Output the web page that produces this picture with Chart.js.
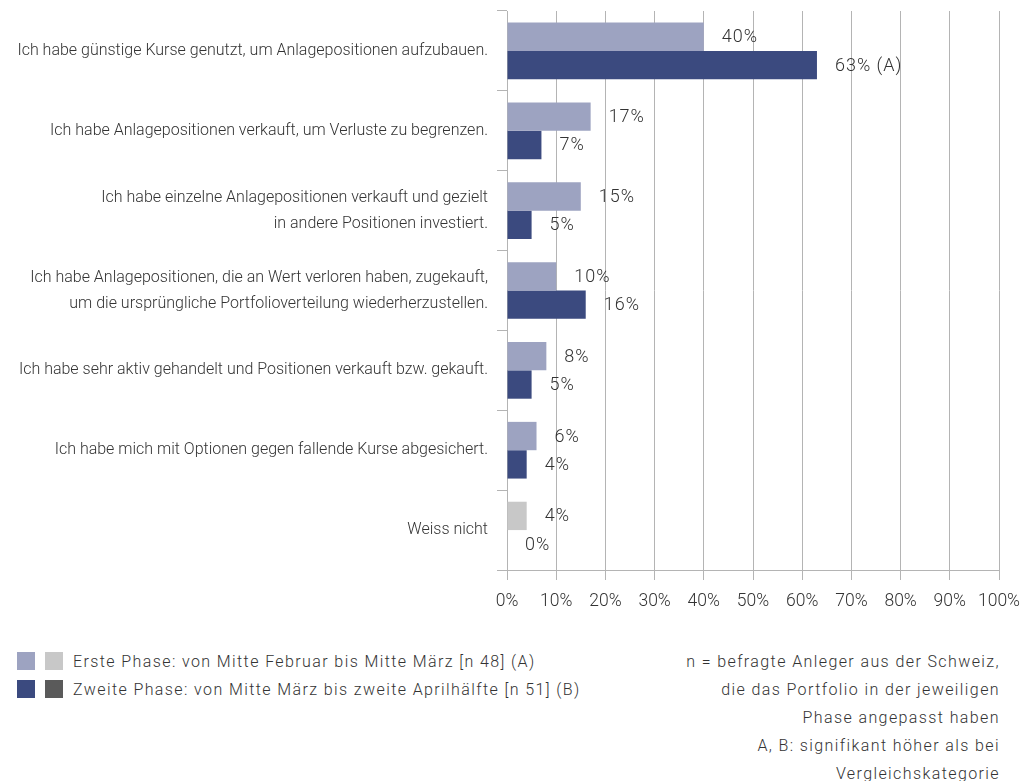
<!DOCTYPE html>
<html lang="de">
<head>
<meta charset="utf-8">
<script src="https://cdn.jsdelivr.net/npm/chart.js@4"></script>
<style>
  body { margin: 0; background: #fff; font-family: Roboto, "Liberation Sans", sans-serif; font-weight: 300; color: #333; }
  #wrap { position: relative; width: 1022px; height: 781px; }
  #chart { position: absolute; left: 0; top: 0; }
  .legend { position: absolute; left: 17px; top: 647px; font-size: 16px; letter-spacing: 1.4px; }
  .legend .row { display: flex; align-items: center; height: 28px; }
  .legend .sw { width: 18px; height: 18px; margin-right: 10px; }
  .note { position: absolute; right: 22px; top: 648px; font-size: 16px; letter-spacing: 1.4px; line-height: 28px; text-align: right; }
</style>
</head>
<body>
<div id="wrap">
  <canvas id="chart" width="1022" height="625"></canvas>
  <div class="legend">
    <div class="row"><span class="sw" style="background:#9da3c1"></span><span class="sw" style="background:#c8c8c8"></span>Erste Phase: von Mitte Februar bis Mitte März [n 48] (A)</div>
    <div class="row"><span class="sw" style="background:#3b4a7f"></span><span class="sw" style="background:#5a5a5a"></span>Zweite Phase: von Mitte März bis zweite Aprilhälfte [n 51] (B)</div>
  </div>
  <div class="note">
    n = befragte Anleger aus der Schweiz,<br>
    die das Portfolio in der jeweiligen<br>
    Phase angepasst haben<br>
    A, B: signifikant höher als bei<br>
    Vergleichskategorie
  </div>
</div>
<script>
const categories = [
  'Ich habe günstige Kurse genutzt, um Anlagepositionen aufzubauen.',
  'Ich habe Anlagepositionen verkauft, um Verluste zu begrenzen.',
  ['Ich habe einzelne Anlagepositionen verkauft und gezielt', 'in andere Positionen investiert.'],
  ['Ich habe Anlagepositionen, die an Wert verloren haben, zugekauft,', 'um die ursprüngliche Portfolioverteilung wiederherzustellen.'],
  'Ich habe sehr aktiv gehandelt und Positionen verkauft bzw. gekauft.',
  'Ich habe mich mit Optionen gegen fallende Kurse abgesichert.',
  'Weiss nicht'
];
const phase1 = [40, 17, 15, 10, 8, 6, 4];
const phase2 = [63, 7, 5, 16, 5, 4, 0];
const phase1Marks = ['', '', '', '', '', '', ''];
const phase2Marks = [' (A)', '', '', '', '', '', ''];
const xTicks = [0, 10, 20, 30, 40, 50, 60, 70, 80, 90, 100];

const FONT = 'Roboto, "Liberation Sans", sans-serif';
const TEXT = '#333';
const GRID = '#b4b4b4';

// last category ("Weiss nicht") is drawn in grey tones
const lastIdx = categories.length - 1;

const valueLabels = {
  id: 'valueLabels',
  afterDatasetsDraw(chart) {
    const ctx = chart.ctx;
    ctx.save();
    ctx.font = '300 18px ' + FONT;
    ctx.letterSpacing = '1px';
    ctx.fillStyle = TEXT;
    ctx.textAlign = 'left';
    ctx.textBaseline = 'middle';
    chart.data.datasets.forEach((ds, di) => {
      const meta = chart.getDatasetMeta(di);
      meta.data.forEach((bar, i) => {
        const txt = ds.data[i] + '%' + ds.marks[i];
        ctx.fillText(txt, bar.x + 18, bar.y + 1);
      });
    });
    ctx.restore();
  }
};

new Chart(document.getElementById('chart'), {
  type: 'bar',
  data: {
    labels: categories,
    datasets: [
      {
        data: phase1,
        marks: phase1Marks,
        backgroundColor: c => c.dataIndex === lastIdx ? '#c8c8c8' : '#9da3c1',
        categoryPercentage: 0.71,
        barPercentage: 1
      },
      {
        data: phase2,
        marks: phase2Marks,
        backgroundColor: c => c.dataIndex === lastIdx ? '#5a5a5a' : '#3b4a7f',
        categoryPercentage: 0.71,
        barPercentage: 1
      }
    ]
  },
  options: {
    indexAxis: 'y',
    responsive: false,
    animation: false,
    devicePixelRatio: 1,
    layout: { padding: { top: 11, right: 23, left: 0, bottom: 0 } },
    plugins: { legend: { display: false }, tooltip: { enabled: false } },
    scales: {
      x: {
        min: 0,
        max: 100,
        afterBuildTicks: s => { s.ticks = xTicks.map(v => ({ value: v })); },
        afterFit: s => { s.height = 55; s.paddingLeft = 0; s.paddingRight = 0; },
        grid: { color: GRID, lineWidth: 1, tickLength: 10 },
        border: { color: GRID },
        ticks: {
          padding: 11,
          color: TEXT,
          font: { family: FONT, size: 17.5, weight: 300 },
          callback: v => v + '%'
        }
      },
      y: {
        afterFit: s => { s.width = 507; s.paddingTop = 0; s.paddingBottom = 0; },
        grid: { drawOnChartArea: false, color: GRID, tickLength: 10, offset: true },
        border: { color: GRID },
        ticks: {
          padding: 9,
          color: TEXT,
          font: { family: FONT, size: 16, weight: 300, lineHeight: '26px' }
        }
      }
    }
  },
  plugins: [valueLabels]
});
</script>
</body>
</html>
